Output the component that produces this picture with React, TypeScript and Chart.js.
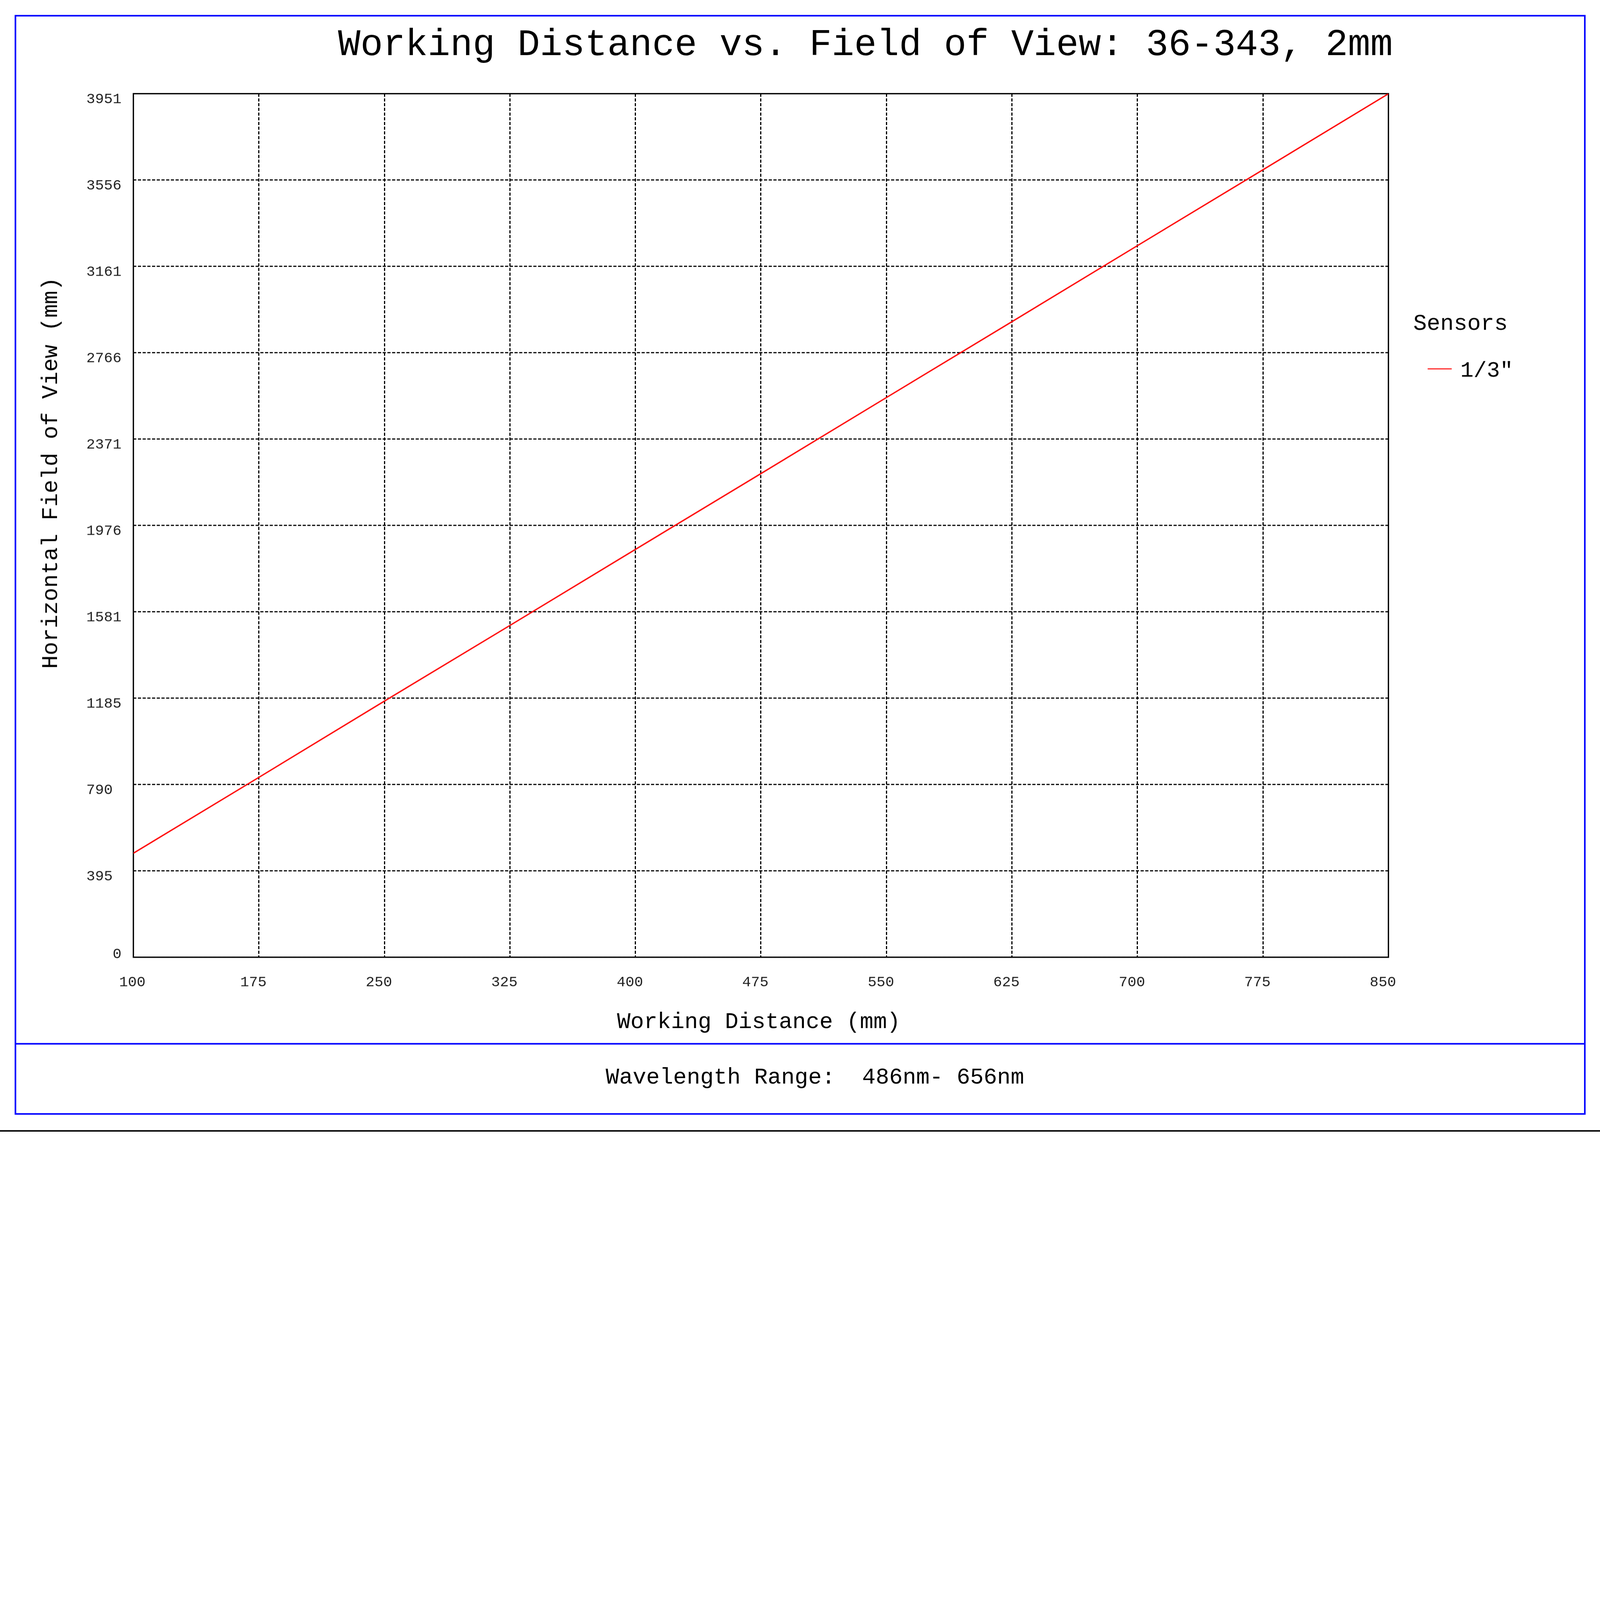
import React, { useEffect, useRef } from 'react';
import { Chart, registerables } from 'chart.js';

Chart.register(...registerables);

const WIDTH = 6118;
const HEIGHT = 4327;

const TITLE = 'Working Distance vs. Field of View: 36-343, 2mm';
const X_TITLE = 'Working Distance (mm)';
const Y_TITLE = 'Horizontal Field of View (mm)';
const FOOTER = 'Wavelength Range:  486nm- 656nm';
const LEGEND_TITLE = 'Sensors';
const SERIES_NAME = '1/3"';
const SERIES_COLOR = '#ff0000';

// Working distance (mm) and horizontal field of view (mm)
const WORKING_DISTANCE = [100, 175, 250, 325, 400, 475, 550, 625, 700, 775, 850];
const FIELD_OF_VIEW = [476, 823, 1172, 1518, 1866, 2213, 2561, 2908, 3256, 3603, 3951];

const X_MIN = 100;
const X_MAX = 850;
const X_TICKS = [100, 175, 250, 325, 400, 475, 550, 625, 700, 775, 850];
const X_TICK_LABELS = [' 100', '175', '250', '325', '400', '475', '550', '625', '700', '775', '850'];

const Y_MIN = 0;
const Y_MAX = 3951.4;
const Y_TICKS = [0, 395.14, 790.28, 1185.42, 1580.56, 1975.7, 2370.84, 2765.98, 3161.12, 3556.26, 3951.4];
const Y_TICK_LABELS: (string | string[])[] = [
  ['   0', ''],
  '395',
  '790',
  '1185',
  '1581',
  '1976',
  '2371',
  '2766',
  '3161',
  '3556',
  '3951',
];

const MONO = '"Liberation Mono", "DejaVu Sans Mono", monospace';

const decorPlugin = {
  id: 'decor',
  beforeDraw(chart: any) {
    const ctx = chart.ctx;
    ctx.save();
    ctx.fillStyle = '#ffffff';
    ctx.fillRect(0, 0, chart.width, chart.height);
    ctx.restore();
  },
  beforeDatasetsDraw(chart: any) {
    const { ctx, chartArea: a } = chart;
    ctx.save();
    ctx.strokeStyle = '#000000';
    ctx.lineWidth = 5;
    ctx.setLineDash([]);
    ctx.strokeRect(a.left, a.top, a.right - a.left, a.bottom - a.top);
    ctx.restore();
  },
  afterDraw(chart: any) {
    const ctx = chart.ctx;
    ctx.save();
    ctx.setLineDash([]);
    // blue outer frame and footer separator
    ctx.strokeStyle = '#0000ff';
    ctx.lineWidth = 6;
    ctx.strokeRect(59, 60, 6001, 4198);
    ctx.beginPath();
    ctx.moveTo(59, 3990);
    ctx.lineTo(6060, 3990);
    ctx.stroke();
    // bottom black bar
    ctx.fillStyle = '#000000';
    ctx.fillRect(0, 4320, WIDTH, 7);

    ctx.fillStyle = '#000000';
    ctx.textBaseline = 'alphabetic';

    ctx.font = `143px ${MONO}`;
    ctx.textAlign = 'center';
    ctx.fillText(TITLE, 3309, 210);

    ctx.font = `86px ${MONO}`;
    ctx.fillText(X_TITLE, 2901, 3930);
    ctx.fillText(FOOTER, 3116, 4142);

    ctx.save();
    ctx.translate(218, 1808);
    ctx.rotate(-Math.PI / 2);
    ctx.textAlign = 'center';
    ctx.fillText(Y_TITLE, 0, 0);
    ctx.restore();

    // legend
    const ds = chart.data.datasets[0];
    ctx.textAlign = 'left';
    ctx.font = `86px ${MONO}`;
    ctx.fillText(LEGEND_TITLE, 5404, 1260);
    ctx.strokeStyle = ds.borderColor;
    ctx.lineWidth = 4;
    ctx.beginPath();
    ctx.moveTo(5459, 1410);
    ctx.lineTo(5551, 1410);
    ctx.stroke();
    ctx.font = `84px ${MONO}`;
    ctx.fillText(ds.label, 5584, 1440);
    ctx.restore();
  },
};

function fitScale() {
  if (typeof window === 'undefined') return 1;
  const s = Math.min(1, window.innerWidth / WIDTH, window.innerHeight / HEIGHT);
  return s > 0 ? s : 1;
}

export default function App() {
  const canvasRef = useRef<HTMLCanvasElement | null>(null);
  const scale = fitScale();

  useEffect(() => {
    document.body.style.margin = '0';
    const canvas = canvasRef.current;
    if (!canvas) return;
    const chart = new Chart(canvas, {
      type: 'line',
      data: {
        datasets: [
          {
            label: SERIES_NAME,
            data: WORKING_DISTANCE.map((x, i) => ({ x, y: FIELD_OF_VIEW[i] })),
            borderColor: SERIES_COLOR,
            backgroundColor: SERIES_COLOR,
            borderWidth: 5,
            pointRadius: 0,
            tension: 0,
            fill: false,
          },
        ],
      },
      options: {
        animation: false,
        responsive: false,
        devicePixelRatio: scale,
        events: [],
        layout: { padding: { left: 330, right: 809, top: 358, bottom: 0 } },
        plugins: {
          legend: { display: false },
          title: { display: false },
          tooltip: { enabled: false },
        },
        scales: {
          x: {
            type: 'linear',
            position: 'bottom',
            min: X_MIN,
            max: X_MAX,
            afterBuildTicks: (axis: any) => {
              axis.ticks = X_TICKS.map((v) => ({ value: v }));
            },
            afterFit: (axis: any) => {
              axis.height = 668;
            },
            grid: { color: '#000000', lineWidth: 4.5, drawTicks: false },
            border: { display: false, dash: [12, 6] },
            ticks: {
              color: '#222222',
              font: { family: MONO, size: 56 },
              padding: 63,
              labelOffset: -21,
              maxRotation: 0,
              autoSkip: false,
              callback: (_v: any, i: number) => X_TICK_LABELS[i],
            },
          },
          y: {
            type: 'linear',
            position: 'left',
            min: Y_MIN,
            max: Y_MAX,
            afterBuildTicks: (axis: any) => {
              axis.ticks = Y_TICKS.map((v) => ({ value: v }));
            },
            afterFit: (axis: any) => {
              axis.width = 180;
            },
            grid: { color: '#000000', lineWidth: 4.5, drawTicks: false },
            border: { display: false, dash: [12, 6] },
            ticks: {
              color: '#222222',
              font: { family: MONO, size: 56 },
              crossAlign: 'far',
              labelOffset: 22,
              autoSkip: false,
              callback: (_v: any, i: number) => Y_TICK_LABELS[i],
            },
          },
        },
      },
      plugins: [decorPlugin],
    } as any);
    return () => chart.destroy();
  }, [scale]);

  return (
    <div
      style={{
        position: 'absolute',
        left: 0,
        top: 0,
        width: WIDTH,
        height: HEIGHT,
        transform: `scale(${scale})`,
        transformOrigin: '0 0',
      }}
    >
      <canvas ref={canvasRef} width={WIDTH} height={HEIGHT} style={{ width: WIDTH, height: HEIGHT, display: 'block' }} />
    </div>
  );
}
